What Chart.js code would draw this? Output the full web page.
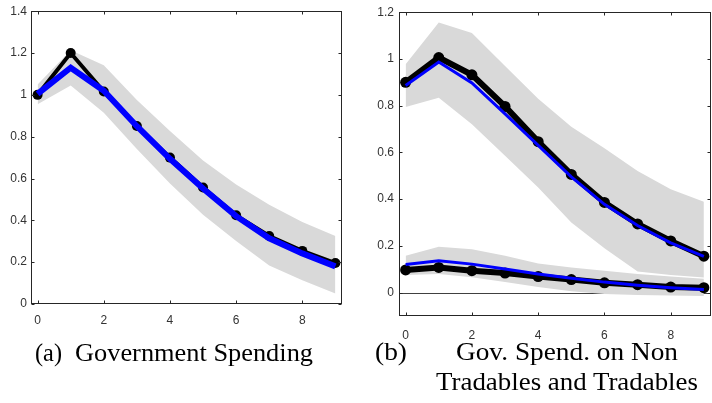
<!DOCTYPE html>
<html><head><meta charset="utf-8">
<script src="https://cdn.jsdelivr.net/npm/chart.js@4/dist/chart.umd.min.js"></script>
<style>
html,body{margin:0;padding:0;background:#fff;width:712px;height:403px;overflow:hidden;position:relative}
canvas{position:absolute}
#ca{left:0;top:0}
#cb{left:356px;top:0}
svg{position:absolute;left:0;top:0}
</style></head><body>
<canvas id="ca" width="356" height="340"></canvas>
<canvas id="cb" width="360" height="345"></canvas>
<svg width="712" height="403">
 <g font-family="Liberation Serif" font-size="26" fill="#000">
  <text x="35" y="361" textLength="27" lengthAdjust="spacingAndGlyphs">(a)</text>
  <text x="75" y="361" textLength="238" lengthAdjust="spacingAndGlyphs">Government Spending</text>
  <text x="375" y="360" textLength="32" lengthAdjust="spacingAndGlyphs">(b)</text>
  <text x="456" y="360" textLength="222" lengthAdjust="spacingAndGlyphs">Gov. Spend. on Non</text>
  <text x="436" y="390" textLength="262" lengthAdjust="spacingAndGlyphs">Tradables and Tradables</text>
 </g>
</svg>
<script>
// ---------- data ----------
const periods = [0,1,2,3,4,5,6,7,8,9];
const xTicks = [0,2,4,6,8];
const yTicksA = [0,0.2,0.4,0.6,0.8,1,1.2,1.4];
const yTicksB = [0,0.2,0.4,0.6,0.8,1,1.2];

// (a) Government spending
const govBlack  = [1.00, 1.20, 1.016, 0.851, 0.700, 0.557, 0.424, 0.325, 0.254, 0.196];
const govBlue   = [1.005, 1.13, 1.02, 0.850, 0.694, 0.552, 0.420, 0.314, 0.242, 0.180];
const govBandHi = [1.05, 1.213, 1.142, 0.976, 0.827, 0.686, 0.571, 0.474, 0.392, 0.325];
const govBandLo = [0.955, 1.045, 0.915, 0.741, 0.576, 0.427, 0.301, 0.184, 0.113, 0.050];

// (b) Non tradables
const ntBlack  = [0.900, 1.006, 0.932, 0.797, 0.646, 0.506, 0.386, 0.294, 0.221, 0.156];
const ntBlue   = [0.886, 0.987, 0.897, 0.765, 0.630, 0.495, 0.378, 0.287, 0.213, 0.155];
const ntBandHi = [0.977, 1.156, 1.111, 0.970, 0.830, 0.710, 0.618, 0.520, 0.442, 0.389];
const ntBandLo = [0.794, 0.834, 0.720, 0.586, 0.450, 0.300, 0.190, 0.090, 0.075, 0.065];
// (b) Tradables
const trBlack  = [0.097, 0.108, 0.094, 0.084, 0.069, 0.056, 0.042, 0.034, 0.024, 0.021];
const trBlue   = [0.120, 0.136, 0.122, 0.101, 0.080, 0.062, 0.045, 0.032, 0.021, 0.013];
const trBandHi = [0.158, 0.196, 0.186, 0.158, 0.125, 0.108, 0.094, 0.080, 0.069, 0.059];
const trBandLo = [0.075, 0.080, 0.066, 0.045, 0.024, 0.006, -0.006, -0.010, -0.012, -0.014];

// ---------- helpers ----------
const pts = arr => periods.map((p,i)=>({x:p, y:arr[i]}));
const fmt = v => String(Math.round(v*10)/10);
const AX = '#262626';
const BAND = '#d9d9d9';

const boxPlugin = {
  id: 'box',
  beforeDatasetsDraw(chart, args, opts) {
    if (!opts.zero) return;
    const ctx = chart.ctx, a = chart.chartArea;
    const y = Math.round(chart.scales.y.getPixelForValue(0)) + 0.5;
    ctx.save();
    ctx.strokeStyle = '#404040'; ctx.lineWidth = 1;
    ctx.beginPath(); ctx.moveTo(a.left, y); ctx.lineTo(a.right, y); ctx.stroke();
    ctx.restore();
  },
  afterDraw(chart, args, opts) {
    const ctx = chart.ctx, a = chart.chartArea;
    const L = Math.round(a.left) + 0.5, R = Math.round(a.right) - 0.5;
    const T = Math.round(a.top) + 0.5, B = Math.round(a.bottom) - 0.5;
    const tl = 3;
    ctx.save();
    ctx.strokeStyle = AX; ctx.lineWidth = 1;
    ctx.strokeRect(L, T, R - L, B - T);
    ctx.beginPath();
    chart.scales.x.ticks.forEach(t => {
      const x = Math.round(chart.scales.x.getPixelForValue(t.value)) + 0.5;
      ctx.moveTo(x, B); ctx.lineTo(x, B - tl);
      ctx.moveTo(x, T); ctx.lineTo(x, T + tl);
    });
    chart.scales.y.ticks.forEach(t => {
      const y = Math.round(chart.scales.y.getPixelForValue(t.value)) + 0.5;
      ctx.moveTo(L, y); ctx.lineTo(L + tl, y);
      ctx.moveTo(R, y); ctx.lineTo(R - tl, y);
    });
    ctx.stroke();
    ctx.restore();
  }
};

function lineSet(arr, color, width, radius, order) {
  return { data: pts(arr), borderColor: color, borderWidth: width, pointRadius: radius,
           pointBackgroundColor: color, pointBorderWidth: 0, pointHoverRadius: radius,
           fill: false, order: order, borderJoinStyle: 'miter', tension: 0 };
}
function bandSet(hi, lo, order) {
  return [
    { data: pts(hi), borderWidth: 0, borderColor: 'rgba(0,0,0,0)', pointRadius: 0, fill: '+1', backgroundColor: BAND, order: order },
    { data: pts(lo), borderWidth: 0, borderColor: 'rgba(0,0,0,0)', pointRadius: 0, fill: false, order: order + 1 }
  ];
}

function makeOpts(cfg) {
  return {
    responsive: false, animation: false, events: [],
    layout: { padding: { left: 0, right: cfg.padR, top: cfg.padT, bottom: 0 } },
    plugins: { legend: { display: false }, tooltip: { enabled: false }, box: { zero: cfg.zero } },
    scales: {
      x: { type: 'linear', min: -0.2, max: 9.2,
           afterBuildTicks: s => { s.ticks = xTicks.map(v => ({ value: v })); },
           afterFit: s => { s.height = cfg.xH; },
           grid: { display: false, drawTicks: false }, border: { display: false },
           ticks: { padding: cfg.xPad, color: '#333', autoSkip: false, maxRotation: 0,
                    font: { family: 'Liberation Sans', size: 12 }, callback: v => fmt(v) } },
      y: { type: 'linear', min: cfg.yMin, max: cfg.yMax,
           afterBuildTicks: s => { s.ticks = cfg.yTicks.map(v => ({ value: v })); },
           afterFit: s => { s.width = cfg.yW; },
           grid: { display: false, drawTicks: false }, border: { display: false },
           ticks: { padding: cfg.yPad, color: '#333', autoSkip: false,
                    font: { family: 'Liberation Sans', size: 12 }, callback: v => fmt(v) } }
    }
  };
}

new Chart(document.getElementById('ca'), {
  type: 'line',
  data: { datasets: [
    lineSet(govBlue, '#0000ff', 6, 0, 0),
    lineSet(govBlack, '#000000', 4, 5, 1),
    ...bandSet(govBandHi, govBandLo, 5)
  ] },
  options: makeOpts({ padR: 14, padT: 7, xH: 36, yW: 31, xPad: 9, yPad: 4, yMin: 0, yMax: 1.4, yTicks: yTicksA, zero: false }),
  plugins: [boxPlugin]
});

new Chart(document.getElementById('cb'), {
  type: 'line',
  data: { datasets: [
    lineSet(ntBlue, '#0000ff', 3, 0, 0),
    lineSet(trBlue, '#0000ff', 3, 0, 0),
    lineSet(ntBlack, '#000000', 6, 5.5, 1),
    lineSet(trBlack, '#000000', 6, 5.5, 1),
    ...bandSet(ntBandHi, ntBandLo, 5),
    ...bandSet(trBandHi, trBandLo, 7)
  ] },
  options: makeOpts({ padR: 1, padT: 9, xH: 29, yW: 43, xPad: 12, yPad: 5, yMin: -0.1, yMax: 1.2, yTicks: yTicksB, zero: true }),
  plugins: [boxPlugin]
});
</script>
</body></html>
